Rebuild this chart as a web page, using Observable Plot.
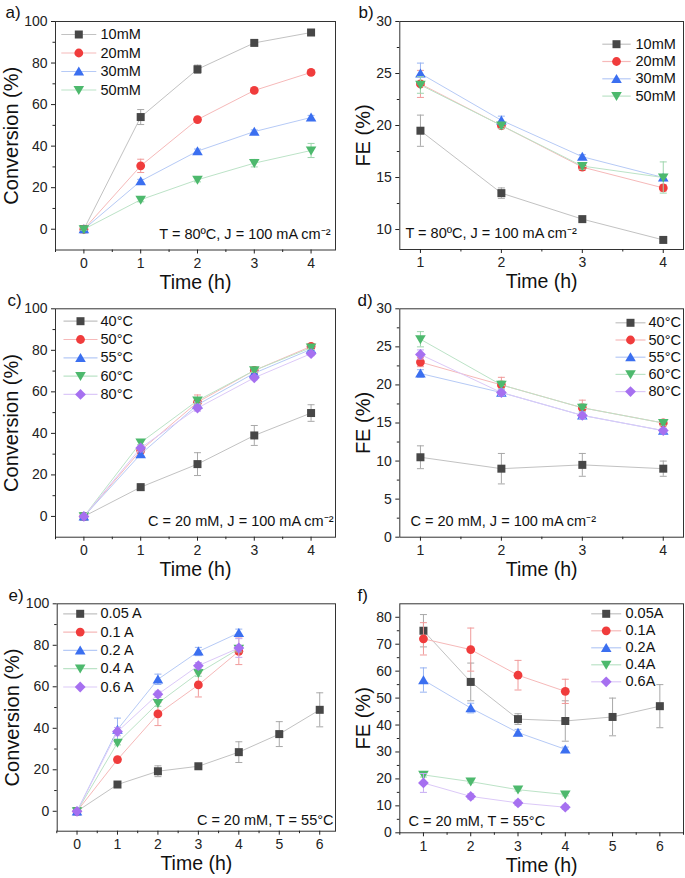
<!DOCTYPE html>
<html><head><meta charset="utf-8">
<script src="https://cdn.jsdelivr.net/npm/d3@7"></script>
<script src="https://cdn.jsdelivr.net/npm/@observablehq/plot@0.6"></script>
<style>
body{margin:0;background:#fff;}
#root{position:relative;width:685px;height:878px;background:#fff;overflow:hidden;}
#root svg{position:absolute;}
</style></head><body><div id="root"></div>
<script>
// ---------- DATA ----------
// Panel a: conversion vs time at different concentrations
const timeA = [0, 1, 2, 3, 4];
const namesA = ["10mM", "20mM", "30mM", "50mM"];
const convA10 = [0, 54, 77, 89.7, 94.7];   const errA10 = [0.8, 3.6, 2, 1, 0.8];
const convA20 = [0, 30.5, 52.8, 66.8, 75.5]; const errA20 = [0.5, 3.2, 1, 0.8, 0.8];
const convA30 = [0, 23.2, 37.6, 47, 53.8];   const errA30 = [0.5, 0.8, 1, 0.8, 1];
const convA50 = [0, 14.2, 23.8, 31.8, 37.9]; const errA50 = [0.5, 1, 1, 1.8, 3.4];

// Panel b: FE vs time at different concentrations
const timeB = [1, 2, 3, 4];
const feB10 = [19.5, 13.5, 11, 9];   const errB10 = [1.5, 0.5, 0.2, 0.15];
const feB20 = [24, 20, 16, 14];      const errB20 = [1.3, 0.3, 0.3, 0.3];
const feB30 = [25, 20.5, 17, 15];    const errB30 = [1, 0.4, 0.2, 0.3];
const feB50 = [23.9, 20, 16.1, 15];  const errB50 = [0.8, 0.3, 0.3, 1.5];

// Panel c: conversion vs time at different temperatures
const timeC = [0, 1, 2, 3, 4];
const namesC = ["40°C", "50°C", "55°C", "60°C", "80°C"];
const convC40 = [0, 14.1, 25.2, 39, 49.8];   const errC40 = [0.5, 1.5, 5.5, 4.8, 4];
const convC50 = [0, 31.8, 55, 70.3, 81.9];   const errC50 = [0.5, 1.5, 3.5, 1.5, 1];
const convC55 = [0, 30, 53.8, 69, 80.5];     const errC55 = [0.5, 1, 1.5, 1.5, 1];
const convC60 = [0, 35.6, 55.8, 70.3, 81.3]; const errC60 = [0.5, 1, 1.5, 1, 1];
const convC80 = [0, 33, 52.2, 66.8, 78.4];   const errC80 = [0.5, 1, 1.5, 1, 1];

// Panel d: FE vs time at different temperatures
const timeD = [1, 2, 3, 4];
const feD40 = [10.5, 9, 9.5, 9];  const errD40 = [1.5, 2, 1.5, 1];
const feD50 = [23, 20, 17, 15];   const errD50 = [0.6, 1, 1, 0.4];
const feD55 = [21.5, 19, 16, 14]; const errD55 = [0.5, 0.3, 0.3, 0.3];
const feD60 = [26, 20, 17, 15];   const errD60 = [1, 0.5, 0.5, 0.3];
const feD80 = [24, 19, 16, 14];   const errD80 = [0.6, 0.4, 0.4, 0.3];

// Panel e: conversion vs time at different currents
const timeE6 = [0, 1, 2, 3, 4, 5, 6];
const timeE4 = [0, 1, 2, 3, 4];
const namesE = ["0.05 A", "0.1 A", "0.2 A", "0.4 A", "0.6 A"];
const convE005 = [0, 12.9, 19.3, 21.7, 28.5, 37.2, 48.9]; const errE005 = [0.5, 0.8, 2.6, 0.8, 5, 6, 8.2];
const convE01 = [0, 24.9, 46.9, 60.9, 77.1]; const errE01 = [0.5, 0.8, 5.6, 5.8, 6.4];
const convE02 = [0, 39.4, 63.6, 77, 86];     const errE02 = [0.5, 5.5, 2.5, 2, 1.8];
const convE04 = [0, 33, 52.1, 66.6, 78.3];   const errE04 = [0.5, 1, 1.5, 1.5, 1.5];
const convE06 = [0, 38.4, 56.4, 70.2, 78.7]; const errE06 = [0.5, 2, 1.5, 1.5, 4.5];

// Panel f: FE vs time at different currents
const timeF6 = [1, 2, 3, 4, 5, 6];
const timeF4 = [1, 2, 3, 4];
const namesF = ["0.05A", "0.1A", "0.2A", "0.4A", "0.6A"];
const feF005 = [75, 56, 42.2, 41.5, 43, 47]; const errF005 = [6, 7, 2, 7.5, 7, 8];
const feF01 = [72, 68, 58.5, 52.5];          const errF01 = [6, 8, 5.5, 4.5];
const feF02 = [56.7, 46.3, 37.2, 31];        const errF02 = [4.5, 1.8, 1.2, 0.8];
const feF04 = [21.5, 19, 16, 14.2];          const errF04 = [0.8, 0.5, 0.5, 0.5];
const feF06 = [18.5, 13.5, 11.1, 9.5];       const errF06 = [3.5, 1, 1, 0.8];

// Tick values
const ticksConv = [0, 20, 40, 60, 80, 100];
const minorConv = [10, 30, 50, 70, 90];
const ticksFE_b = [10, 15, 20, 25, 30];
const minorFE_b = [12.5, 17.5, 22.5, 27.5];
const ticksFE_d = [0, 5, 10, 15, 20, 25, 30];
const minorFE_d = [2.5, 7.5, 12.5, 17.5, 22.5, 27.5];
const ticksFE_f = [0, 10, 20, 30, 40, 50, 60, 70, 80];
const minorFE_f = [5, 15, 25, 35, 45, 55, 65, 75];
const ticksT4 = [0, 1, 2, 3, 4];
const minorT4 = [-0.5, 0.5, 1.5, 2.5, 3.5];
const ticksT14 = [1, 2, 3, 4];
const minorT14 = [1.5, 2.5, 3.5];
const ticksT6 = [0, 1, 2, 3, 4, 5, 6];
const minorT6 = [-0.5, 0.5, 1.5, 2.5, 3.5, 4.5, 5.5];
const ticksT16 = [1, 2, 3, 4, 5, 6];
const minorT16 = [0.5, 1.5, 2.5, 3.5, 4.5, 5.5, 6.5];

// ---------- STYLE ----------
const PAL = [
  {c: "#474747", l: "#c2c2c2", e: "#a8a8a8"},
  {c: "#f03c3c", l: "#f6b9b9", e: "#f09a9a"},
  {c: "#3b6ff0", l: "#b6caf6", e: "#98b4f2"},
  {c: "#4db96d", l: "#bce3c7", e: "#9dd5ad"},
  {c: "#a670f0", l: "#dcc9f8", e: "#c6abf4"}
];
const sq = {draw(c) { c.moveTo(-4, -4); c.lineTo(4, -4); c.lineTo(4, 4); c.lineTo(-4, 4); c.closePath(); }};
const circ = {draw(c) { c.moveTo(4.4, 0); c.arc(0, 0, 4.4, 0, 2 * Math.PI); c.closePath(); }};
const triUp = {draw(c) { c.moveTo(0, -4.9); c.lineTo(5.3, 4.1); c.lineTo(-5.3, 4.1); c.closePath(); }};
const triDn = {draw(c) { c.moveTo(0, 4.9); c.lineTo(5.3, -4.1); c.lineTo(-5.3, -4.1); c.closePath(); }};
const dia = {draw(c) { c.moveTo(0, -5.4); c.lineTo(5.4, 0); c.lineTo(0, 5.4); c.lineTo(-5.4, 0); c.closePath(); }};
const SYM = [sq, circ, triUp, triDn, dia];
const hline = h => ({draw(c) { c.moveTo(-h, 0); c.lineTo(h, 0); }});
const cap = hline(3.5);
const FONT = "'Liberation Sans', Arial, sans-serif";

function mk(name, xs, ys, es, i) {
  return {name, rows: xs.map((t, k) => ({t, v: ys[k], e: es[k]})), ...PAL[i], sym: SYM[i]};
}

function panel(p) {
  const marks = [];
  marks.push(Plot.frame({stroke: "#333", strokeWidth: 1}));
  marks.push(Plot.axisY(p.yMajor, {tickSize: 4, tickPadding: 4, fontSize: 14, label: null, color: "#222"}));
  marks.push(Plot.axisY(p.yMinor, {tickSize: 2.5, tickFormat: () => "", label: null, color: "#222"}));
  marks.push(Plot.axisX(p.xMajor, {tickSize: 4, tickPadding: 4, fontSize: 14, label: null, color: "#222"}));
  marks.push(Plot.axisX(p.xMinor, {tickSize: 2.5, tickFormat: () => "", label: null, color: "#222"}));
  for (const s of p.series) {
    marks.push(Plot.line(s.rows, {x: "t", y: "v", stroke: s.l, strokeWidth: 1}));
    marks.push(Plot.ruleX(s.rows, {x: "t", y1: d => d.v - d.e, y2: d => d.v + d.e, stroke: s.e, strokeWidth: 1}));
    marks.push(Plot.dot(s.rows, {x: "t", y: d => d.v + d.e, symbol: cap, stroke: s.e, fill: "none", strokeWidth: 1}));
    marks.push(Plot.dot(s.rows, {x: "t", y: d => d.v - d.e, symbol: cap, stroke: s.e, fill: "none", strokeWidth: 1}));
    marks.push(Plot.dot(s.rows, {x: "t", y: "v", symbol: s.sym, fill: s.c, stroke: "none"}));
  }
  // legend
  const L = p.legend;
  p.series.forEach((s, i) => {
    const dy = L.y0 + i * L.step;
    marks.push(Plot.dot([0], {frameAnchor: L.anchor, dx: L.mx, dy, symbol: hline(L.half), stroke: s.l, fill: "none", strokeWidth: 1.2}));
    marks.push(Plot.dot([0], {frameAnchor: L.anchor, dx: L.mx, dy, symbol: s.sym, fill: s.c, stroke: "none"}));
    marks.push(Plot.text([s.name], {frameAnchor: L.anchor, dx: L.tx, dy, text: d => d, textAnchor: "start", lineAnchor: "middle", fontSize: 14.5, fill: "#111"}));
  });
  // annotation
  marks.push(Plot.text([p.annot.text], {text: d => d, frameAnchor: p.annot.anchor, dx: p.annot.dx, dy: p.annot.dy,
    textAnchor: p.annot.textAnchor, lineAnchor: "middle", fontSize: 14.5, fill: "#111"}));
  // axis titles
  marks.push(Plot.text([p.yLabel], {text: d => d, frameAnchor: "left", dx: p.yLabelDx, rotate: -90, textAnchor: "middle", lineAnchor: "middle", fontSize: 20, fill: "#111"}));
  marks.push(Plot.text(["Time (h)"], {text: d => d, frameAnchor: "bottom", dy: 32.5, textAnchor: "middle", lineAnchor: "middle", fontSize: 19.5, fill: "#111"}));
  // panel label
  marks.push(Plot.text([p.tag], {text: d => d, frameAnchor: "top-left", dx: p.tagDx, dy: -8.5, textAnchor: "start", lineAnchor: "middle", fontSize: 17, fill: "#111"}));

  const f = p.frame;
  const svg = Plot.plot({
    width: p.width, height: p.height,
    marginLeft: f.l - p.left, marginTop: f.t - p.top,
    marginRight: p.left + p.width - f.r, marginBottom: p.top + p.height - f.b,
    x: {domain: p.xDomain, label: null},
    y: {domain: p.yDomain, label: null},
    style: {background: "transparent", overflow: "visible", fontFamily: FONT, color: "#222"},
    marks
  });
  svg.style.left = p.left + "px";
  svg.style.top = p.top + "px";
  document.getElementById("root").appendChild(svg);
}

// Panel a
panel({
  tag: "a)", tagDx: -50, left: 0, top: 0, width: 343, height: 300,
  frame: {l: 55, t: 21, r: 335, b: 249.5},
  xDomain: [-0.5, 4.43], yDomain: [-10, 100],
  xMajor: ticksT4, xMinor: minorT4, yMajor: ticksConv, yMinor: minorConv,
  yLabel: "Conversion (%)", yLabelDx: -44,
  series: [mk(namesA[0], timeA, convA10, errA10, 0), mk(namesA[1], timeA, convA20, errA20, 1),
           mk(namesA[2], timeA, convA30, errA30, 2), mk(namesA[3], timeA, convA50, errA50, 3)],
  legend: {anchor: "top-left", mx: 23.3, half: 17.5, tx: 45, y0: 13, step: 18.5},
  annot: {text: "T = 80ºC, J = 100 mA cm⁻²", anchor: "bottom-right", dx: -5, dy: -15.5, textAnchor: "end"}
});
// Panel b
panel({
  tag: "b)", tagDx: -41.3, left: 343, top: 0, width: 342, height: 300,
  frame: {l: 399.3, t: 21, r: 683, b: 249},
  xDomain: [0.745, 4.25], yDomain: [8.08, 30],
  xMajor: ticksT14, xMinor: minorT14, yMajor: ticksFE_b, yMinor: minorFE_b,
  yLabel: "FE (%)", yLabelDx: -36,
  series: [mk(namesA[0], timeB, feB10, errB10, 0), mk(namesA[1], timeB, feB20, errB20, 1),
           mk(namesA[2], timeB, feB30, errB30, 2), mk(namesA[3], timeB, feB50, errB50, 3)],
  legend: {anchor: "top-right", mx: -67, half: 14.2, tx: -48, y0: 22.7, step: 17.3},
  annot: {text: "T = 80ºC, J = 100 mA cm⁻²", anchor: "bottom-left", dx: 5.7, dy: -15.7, textAnchor: "start"}
});
// Panel c
panel({
  tag: "c)", tagDx: -48, left: 0, top: 290, width: 343, height: 300,
  frame: {l: 55, t: 308.3, r: 335, b: 536.7},
  xDomain: [-0.5, 4.43], yDomain: [-10, 100],
  xMajor: ticksT4, xMinor: minorT4, yMajor: ticksConv, yMinor: minorConv,
  yLabel: "Conversion (%)", yLabelDx: -44,
  series: [mk(namesC[0], timeC, convC40, errC40, 0), mk(namesC[1], timeC, convC50, errC50, 1),
           mk(namesC[2], timeC, convC55, errC55, 2), mk(namesC[3], timeC, convC60, errC60, 3),
           mk(namesC[4], timeC, convC80, errC80, 4)],
  legend: {anchor: "top-left", mx: 25, half: 17, tx: 45, y0: 12.4, step: 18.3},
  annot: {text: "C = 20 mM, J = 100 mA cm⁻²", anchor: "bottom-right", dx: -2, dy: -16, textAnchor: "end"}
});
// Panel d
panel({
  tag: "d)", tagDx: -42.3, left: 343, top: 290, width: 342, height: 300,
  frame: {l: 399.3, t: 308.3, r: 683, b: 536.7},
  xDomain: [0.745, 4.25], yDomain: [0, 30],
  xMajor: ticksT14, xMinor: minorT14, yMajor: ticksFE_d, yMinor: minorFE_d,
  yLabel: "FE (%)", yLabelDx: -36,
  series: [mk(namesC[0], timeD, feD40, errD40, 0), mk(namesC[1], timeD, feD50, errD50, 1),
           mk(namesC[2], timeD, feD55, errD55, 2), mk(namesC[3], timeD, feD60, errD60, 3),
           mk(namesC[4], timeD, feD80, errD80, 4)],
  legend: {anchor: "top-right", mx: -53, half: 15, tx: -35, y0: 14, step: 17.2},
  annot: {text: "C = 20 mM, J = 100 mA cm⁻²", anchor: "bottom-left", dx: 10.7, dy: -16, textAnchor: "start"}
});
// Panel e
panel({
  tag: "e)", tagDx: -48.7, left: 0, top: 580, width: 343, height: 298,
  frame: {l: 56.7, t: 603.3, r: 335, b: 830.7},
  xDomain: [-0.49, 6.39], yDomain: [-9.6, 100],
  xMajor: ticksT6, xMinor: minorT6, yMajor: ticksConv, yMinor: minorConv,
  yLabel: "Conversion (%)", yLabelDx: -45,
  series: [mk(namesE[0], timeE6, convE005, errE005, 0), mk(namesE[1], timeE4, convE01, errE01, 1),
           mk(namesE[2], timeE4, convE02, errE02, 2), mk(namesE[3], timeE4, convE04, errE04, 3),
           mk(namesE[4], timeE4, convE06, errE06, 4)],
  legend: {anchor: "top-left", mx: 23, half: 17, tx: 43.3, y0: 10, step: 18.3},
  annot: {text: "C = 20 mM, T = 55°C", anchor: "bottom-right", dx: -2, dy: -10.7, textAnchor: "end"}
});
// Panel f
panel({
  tag: "f)", tagDx: -42.3, left: 343, top: 580, width: 342, height: 298,
  frame: {l: 399.3, t: 603.3, r: 683, b: 832.3},
  xDomain: [0.5, 6.5], yDomain: [0, 85],
  xMajor: ticksT16, xMinor: minorT16, yMajor: ticksFE_f, yMinor: minorFE_f,
  yLabel: "FE (%)", yLabelDx: -36,
  series: [mk(namesF[0], timeF6, feF005, errF005, 0), mk(namesF[1], timeF4, feF01, errF01, 1),
           mk(namesF[2], timeF4, feF02, errF02, 2), mk(namesF[3], timeF4, feF04, errF04, 3),
           mk(namesF[4], timeF4, feF06, errF06, 4)],
  legend: {anchor: "top-right", mx: -77.3, half: 15, tx: -58, y0: 10, step: 17},
  annot: {text: "C = 20 mM, T = 55°C", anchor: "bottom-left", dx: 8.7, dy: -11.6, textAnchor: "start"}
});
</script>
</body></html>
